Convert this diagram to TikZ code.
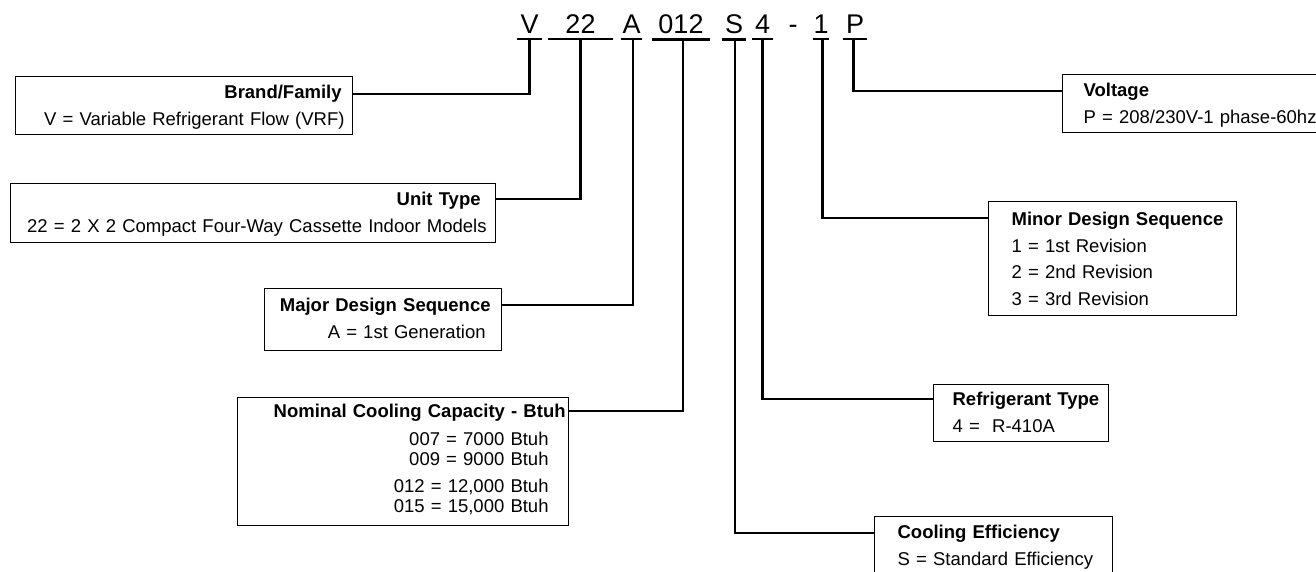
\documentclass[tikz,border=0pt]{standalone}
\usepackage{fontspec}
\setmainfont{Liberation Sans}
\hfuzz=30pt

\newcommand\boxfont{\fontsize{18.5pt}{26.5pt}\selectfont}
\newcommand\codefont{\fontsize{27pt}{27pt}\selectfont}

\begin{document}
\begin{tikzpicture}[
      x=1pt,y=-1pt,
      code/.style={font=\codefont,inner xsep=0pt,inner ysep=6pt,anchor=base},
      conn/.style={line width=2.2pt},
      lbox/.style={draw,line width=1.2pt,anchor=north west,align=right,font=\boxfont,inner ysep=9pt},
      rbox/.style={draw,line width=1.2pt,anchor=north west,align=left,font=\boxfont,inner ysep=9pt,inner xsep=0pt},
      ]

    \clip (0,0) rectangle (1316,571);

    % The model number
    \node[code,minimum width=25pt] (cV) at (529.5,33) {V};
    \node[code,minimum width=65pt] (c22) at (580.5,33) {22};
    \node[code,minimum width=21pt] (cA) at (631.5,33) {A};
    \node[code,minimum width=58pt] (c012) at (681,33) {012};
    \node[code,minimum width=24pt] (cS) at (734,33) {S};
    \node[code,minimum width=21pt] (c4) at (762.5,33) {4};
    \node[code] (cdash) at (793,33) {-};
    \node[code,minimum width=16pt] (c1) at (821,33) {1};
    \node[code,minimum width=24pt] (cP) at (855,33) {P};

    % Position the boxes
    \node[lbox,text width=321pt,inner xsep=8pt,text height=13pt,text depth=27pt] (brand) at (15,76)
      {\textbf{Brand/Family}\kern3pt\\V = Variable Refrigerant Flow (VRF)};
    \node[lbox,text width=467pt,inner xsep=9pt,text height=13pt,text depth=28pt] (unit) at (10,183)
      {\textbf{Unit Type}\kern6pt\\22 = 2 X 2 Compact Four-Way Cassette Indoor Models};
    \node[lbox,text width=215pt,inner xsep=11pt,text height=14pt,text depth=30pt] (major) at (264,288)
      {\textbf{Major Design Sequence}\\A = 1st Generation\kern5pt};
    \node[lbox,text width=325pt,inner xsep=3pt,text height=11pt,text depth=99pt] (capacity) at (237,397)
      {\textbf{Nominal Cooling Capacity - Btuh}\\[1.5pt]
       007 = 7000 Btuh\kern17pt\\[-6.5pt]
       009 = 9000 Btuh\kern17pt\\[0.5pt]
       012 = 12,000 Btuh\kern17pt\\[-6.5pt]
       015 = 15,000 Btuh\kern17pt};
    \node[rbox,text width=300pt,text height=13pt,text depth=27pt] (voltage) at (1062,74)
      {\leftskip=21pt\textbf{Voltage}\\P = 208/230V-1 phase-60hz\par};
    \node[rbox,text width=248pt,text height=15pt,text depth=81pt] (minor) at (988,201)
      {\leftskip=23pt\textbf{Minor Design Sequence}\\1 = 1st Revision\\2 = 2nd Revision\\3 = 3rd Revision\par};
    \node[rbox,text width=175pt,text height=12pt,text depth=27pt] (refrig) at (933,384)
      {\leftskip=19pt\textbf{Refrigerant Type}\\4 =\ \ R-410A\par};
    \node[rbox,text width=238pt,text height=13pt,text depth=33pt] (effic) at (874,516)
      {\leftskip=23pt\textbf{Cooling Efficiency}\\S = Standard Efficiency\par};

    % Underline the model number
    \foreach \c in {cV,c22,cA,c012,cS,c4,c1,cP}
      \draw[conn] (\c.south west) -- (\c.south east);

    % Draw the lines to the boxes
    \draw[conn] (cV.south) |- ([yshift=-18pt]brand.north east);
    \draw[conn] (c22.south) |- ([yshift=-16pt]unit.north east);
    \draw[conn] ([xshift=1.5pt]cA.south) |- ([yshift=-17pt]major.north east);
    \draw[conn] ([xshift=2pt]c012.south) |- ([yshift=-14pt]capacity.north east);
    \draw[conn] ([xshift=1pt]cS.south) |- ([yshift=-17pt]effic.north west);
    \draw[conn] (c4.south) |- ([yshift=-15pt]refrig.north west);
    \draw[conn] ([xshift=1.5pt]c1.south) |- ([yshift=-17pt]minor.north west);
    \draw[conn] ([xshift=-1.5pt]cP.south) |- ([yshift=-17pt]voltage.north west);

  \end{tikzpicture}
\end{document}
